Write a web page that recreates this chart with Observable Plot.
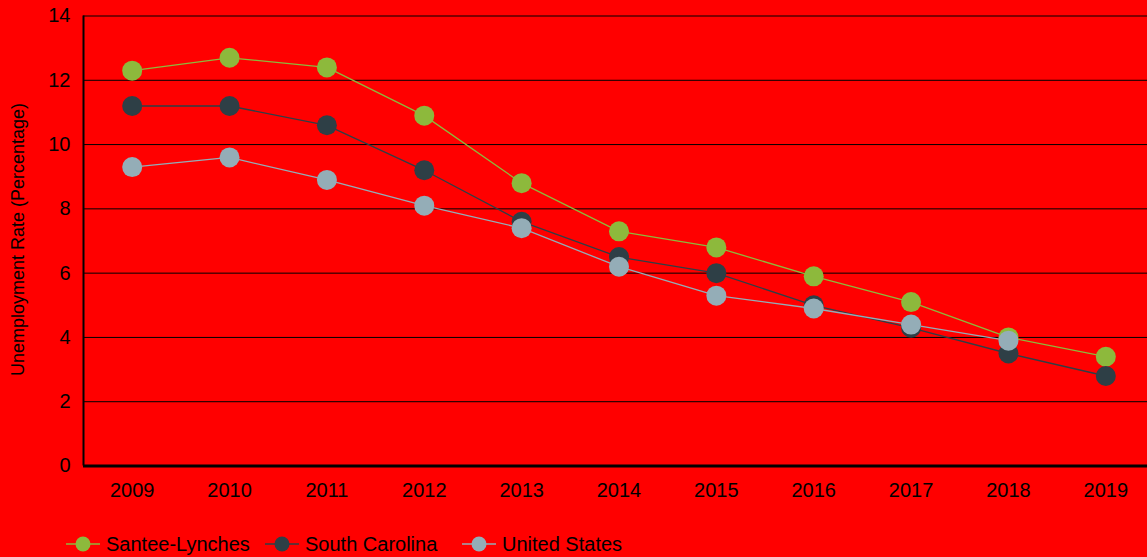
<!DOCTYPE html>
<html>
<head>
<meta charset="utf-8">
<script src="https://cdn.jsdelivr.net/npm/d3@7"></script>
<script src="https://cdn.jsdelivr.net/npm/@observablehq/plot@0.6"></script>
<style>
  html, body { margin: 0; padding: 0; background: #ff0000; }
  body { width: 1147px; height: 557px; overflow: hidden; font-family: "Liberation Sans", Arial, sans-serif; }
  #chart svg { display: block; background: #ff0000; }
  #legend { position: relative; height: 35px; }
  .item { position: absolute; top: 10px; height: 24px; display: flex; align-items: center; font-size: 20px; color: #000; }
  .item svg { display: block; margin-right: 6px; }
</style>
</head>
<body>
<div id="chart"></div>
<div id="legend"></div>
<script>
// Annual unemployment rate (%), 2009–2019
const years = [2009, 2010, 2011, 2012, 2013, 2014, 2015, 2016, 2017, 2018, 2019];
const santeeLynches = [12.3, 12.7, 12.4, 10.9, 8.8, 7.3, 6.8, 5.9, 5.1, 4.0, 3.4];
const southCarolina = [11.2, 11.2, 10.6, 9.2, 7.6, 6.5, 6.0, 5.0, 4.3, 3.5, 2.8];
const unitedStates = [9.3, 9.6, 8.9, 8.1, 7.4, 6.2, 5.3, 4.9, 4.4, 3.9, null];
const seriesNames = ["Santee-Lynches", "South Carolina", "United States"];
const seriesColors = ["#8db93c", "#2e3f46", "#94adb7"];
const yTicks = [0, 2, 4, 6, 8, 10, 12, 14];
const yLabel = "Unemployment Rate (Percentage)";

const seriesValues = [santeeLynches, southCarolina, unitedStates];
const rows = seriesNames.flatMap((name, i) =>
  years.map((year, j) => ({series: name, year, value: seriesValues[i][j]}))
    .filter(d => d.value != null)
);
const colorOf = Object.fromEntries(seriesNames.map((n, i) => [n, seriesColors[i]]));

const W = 1147, H = 522;

const lines = seriesNames.map(name =>
  Plot.line(rows.filter(d => d.series === name), {
    x: "year", y: "value", stroke: colorOf[name], strokeWidth: 1.3
  })
);
const dots = seriesNames.map(name =>
  Plot.dot(rows.filter(d => d.series === name), {
    x: "year", y: "value", r: 10, fill: colorOf[name], stroke: "none"
  })
);

const chart = Plot.plot({
  width: W,
  height: H,
  marginLeft: 83,
  marginRight: 0,
  marginTop: 15,
  marginBottom: H - 466,
  style: {background: "#ff0000", fontFamily: "'Liberation Sans', Arial, sans-serif", color: "#000"},
  x: {type: "linear", domain: [2008.5, 2019.5], range: [83, 1154]},
  y: {domain: [0, 14], range: [465.5, 15.5]},
  marks: [
    Plot.ruleY(yTicks.filter(t => t > 0), {stroke: "#000", strokeWidth: 1}),
    Plot.axisX({ticks: years, tickFormat: d => String(d), tickSize: 0, tickPadding: 16, fontSize: 20, label: null}),
    Plot.axisY({ticks: yTicks, tickSize: 0, tickPadding: 13, fontSize: 20, label: null}),
    Plot.text([yLabel], {frameAnchor: "left", textAnchor: "middle", rotate: -90, dx: -65, dy: -1.5, fontSize: 18, fill: "#000"}),
    ...lines,
    ...dots,
    Plot.ruleX([2008.5], {y1: 0, y2: 14, stroke: "#000", strokeWidth: 2}),
    Plot.ruleY([0], {stroke: "#000", strokeWidth: 3})
  ]
});
document.getElementById("chart").appendChild(chart);

// Legend below the plot
const legend = document.getElementById("legend");
const legendLeft = [66, 265, 462];
seriesNames.forEach((name, i) => {
  const item = document.createElement("div");
  item.className = "item";
  item.style.left = legendLeft[i] + "px";
  item.innerHTML =
    `<svg width="34" height="16"><line x1="0" x2="34" y1="8" y2="8" stroke="${seriesColors[i]}" stroke-width="1.3"/>` +
    `<circle cx="17" cy="8" r="7.5" fill="${seriesColors[i]}"/></svg><span>${name}</span>`;
  legend.appendChild(item);
});
</script>
</body>
</html>
